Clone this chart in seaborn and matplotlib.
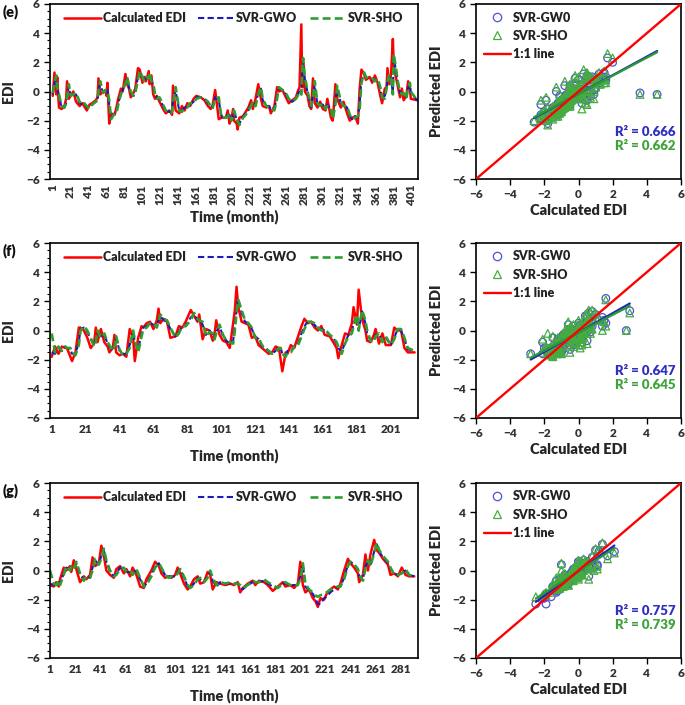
import numpy as np
import pandas as pd
import matplotlib
matplotlib.use("Agg")
import matplotlib.pyplot as plt
import seaborn as sns
from matplotlib.lines import Line2D
from matplotlib.ticker import MultipleLocator

# ---------------- data ----------------
months_e = [1,3,5,6,8,11,14,16,17,19,
            21,24,27,31,34,36,39,42,45,49,
            51,52,54,57,60,61,62,64,66,70,
            72,74,77,79,82,84,86,88,91,93,
            96,98,101,103,105,108,109,111,113,115,
            117,120,124,127,131,134,135,138,142,145,
            148,151,154,158,161,166,170,174,177,179,
            182,186,189,194,196,198,200,202,203,206,
            207,209,213,216,219,222,224,227,230,233,
            235,239,242,244,248,251,253,257,260,264,
            268,272,274,276,278,279,280,282,285,287,
            289,291,293,296,299,302,305,307,311,313,
            316,318,322,325,329,332,335,338,341,343,
            345,348,350,354,357,360,363,366,368,371,
            373,374,376,378,380,381,386,388,390,392,
            395,397,399,400,407]
calc_e = [-0.3,1.3,-0.2,1.0,-1.1,-1.2,-1.0,-0.5,0.7,-0.5,
          -0.3,0.0,-0.7,-1.0,-0.8,-1.0,-1.3,-0.9,-0.8,-0.6,
          -0.4,0.9,-0.2,0.0,0.1,-0.3,0.6,-2.2,-1.5,-1.6,
          -1.1,-0.5,0.2,0.0,1.2,0.5,0.2,-0.4,-0.1,0.2,
          1.6,1.5,0.6,1.0,0.7,1.4,0.5,1.1,-0.2,-0.5,
          -0.3,-0.7,-1.2,-1.5,-1.3,-1.6,0.4,-1.3,-1.5,-1.0,
          -1.3,-0.8,-1.0,-0.5,-0.3,-0.4,-0.6,-1.0,-1.2,-1.0,
          0.1,-1.9,-1.8,-1.8,-1.3,-2.2,-1.9,-1.2,-2.0,-2.2,
          -2.6,-1.8,-1.7,-1.4,-1.1,-0.6,-1.2,-0.5,0.5,-0.5,
          -1.0,-1.1,-1.0,-1.5,-1.0,0.3,0.0,0.1,-0.3,-0.8,
          -0.6,-0.4,0.0,0.3,4.6,0.3,2.0,0.0,-0.3,-1.0,
          -1.2,0.9,-0.8,-1.1,-0.7,-1.2,-1.3,-0.5,-1.8,-2.0,
          0.5,-0.5,-1.1,-0.7,-1.5,-2.0,-1.8,-1.7,-2.2,0.2,
          1.5,1.2,0.8,1.0,0.6,1.1,0.6,-0.3,-0.8,0.2,
          0.3,1.6,0.5,1.2,3.6,1.7,0.2,-0.4,0.2,-0.6,
          -0.3,0.7,0.2,-0.5,-0.6]
gwo_e = [-0.2,0.6,0.9,0.2,-0.3,-1.1,-1.1,-0.8,-0.3,0.4,
         -0.4,-0.2,-0.2,-0.8,-0.9,-0.8,-1.1,-1.1,-0.9,-0.7,
         -0.5,0.1,0.5,-0.1,0.0,0.0,0.1,-0.9,-1.8,-1.5,
         -1.4,-0.8,-0.1,0.1,0.6,0.9,0.3,-0.1,-0.3,0.0,
         1.0,1.3,0.9,0.8,0.9,1.0,1.1,0.8,0.4,-0.3,
         -0.4,-0.5,-1.0,-1.3,-1.4,-1.4,-0.6,0.0,-1.3,-1.3,
         -1.1,-1.0,-0.9,-0.7,-0.4,-0.4,-0.5,-0.8,-1.0,-1.1,
         -0.4,-0.6,-1.7,-1.7,-1.6,-1.6,-2.0,-1.6,-1.4,-1.9,
         -2.1,-2.2,-1.7,-1.5,-1.3,-0.9,-0.8,-0.9,-0.1,0.2,
         -0.6,-1.0,-1.0,-1.2,-1.2,-0.3,0.2,0.1,-0.1,-0.6,
         -0.7,-0.5,-0.2,0.1,-0.2,1.2,2.0,0.8,-0.1,-0.6,
         -1.1,-0.2,0.4,-0.9,-0.9,-0.9,-1.2,-0.9,-1.2,-1.8,
         -0.6,0.2,-0.8,-0.9,-1.1,-1.7,-1.9,-1.7,-1.8,-0.8,
         0.8,1.2,1.0,0.8,0.8,0.8,0.8,0.2,-0.5,-0.3,
         0.2,0.8,1.0,0.9,-0.1,2.3,0.5,-0.1,-0.1,-0.2,
         -0.4,0.3,0.5,-0.1,-0.6]
sho_e = [-0.1,0.5,1.1,0.3,-0.2,-1.0,-1.1,-0.8,-0.4,0.5,
         -0.3,-0.2,-0.1,-0.7,-0.9,-0.8,-1.0,-1.2,-0.9,-0.7,
         -0.6,0.0,0.7,-0.1,0.1,0.0,0.0,-0.6,-1.9,-1.5,
         -1.5,-0.9,-0.2,0.1,0.5,1.0,0.4,0.0,-0.3,-0.1,
         0.8,1.4,1.0,0.7,1.0,0.9,1.3,0.7,0.6,-0.2,
         -0.5,-0.4,-0.9,-1.3,-1.5,-1.4,-0.8,0.3,-1.3,-1.4,
         -1.1,-1.1,-0.8,-0.8,-0.5,-0.4,-0.5,-0.7,-1.0,-1.2,
         -0.5,-0.4,-1.8,-1.8,-1.7,-1.5,-2.0,-1.7,-1.3,-1.9,
         -2.0,-2.3,-1.8,-1.6,-1.3,-1.0,-0.7,-1.0,-0.2,0.3,
         -0.5,-1.0,-1.1,-1.1,-1.3,-0.5,0.3,0.1,0.0,-0.5,
         -0.7,-0.5,-0.3,0.0,-0.2,1.5,2.3,1.0,0.0,-0.5,
         -1.0,-0.5,0.7,-0.8,-1.0,-0.8,-1.2,-1.0,-1.1,-1.9,
         -0.9,0.4,-0.7,-1.0,-1.0,-1.6,-1.9,-1.8,-1.7,-1.2,
         0.6,1.3,1.0,0.8,0.9,0.7,0.9,0.3,-0.4,-0.5,
         0.2,0.6,1.2,0.8,-0.2,2.6,0.5,0.0,-0.2,-0.1,
         -0.5,0.2,0.6,0.0,-0.6]

months_f = [1,3,5,7,9,10,12,13,15,17,
            18,20,22,24,26,27,28,30,32,34,
            35,37,38,39,41,43,45,47,49,50,
            52,54,55,57,59,61,63,64,65,67,
            69,71,74,76,78,80,83,85,87,88,
            90,92,94,96,97,98,100,102,104,106,
            108,109,110,111,113,115,117,119,121,123,
            125,127,129,131,133,135,136,137,139,140,
            142,144,146,148,150,152,154,156,158,160,
            162,165,167,169,170,172,174,176,178,179,
            181,182,184,186,187,189,191,192,194,196,
            198,201,203,205,207,209,211,215]
calc_f = [-1.8,-1.1,-1.6,-1.1,-1.2,-1.2,-1.8,-2.1,-1.5,0.2,
          0.2,0.0,-0.5,-1.2,-0.9,0.2,-0.8,0.1,-0.8,-1.1,
          -1.5,-1.2,-0.3,-1.5,-1.7,-1.6,-1.8,0.1,-0.5,-2.1,
          -0.5,0.3,0.2,0.5,0.6,0.1,0.7,1.5,0.5,0.8,
          0.6,-0.5,-0.4,0.3,0.2,0.6,1.4,1.0,0.6,1.1,
          -0.6,0.1,0.0,-0.7,-0.3,0.7,-0.3,-0.7,-0.8,-1.2,
          0.5,1.4,3.0,1.6,0.6,0.5,0.4,-0.5,-0.4,-1.0,
          -1.2,-1.4,-1.6,-1.5,-1.1,-1.2,-2.0,-2.8,-1.5,-1.6,
          -1.0,-1.2,-0.5,0.2,0.8,0.5,0.6,0.2,0.0,0.3,
          -0.3,-0.4,-0.8,-1.2,-1.9,-1.0,-0.2,-0.3,0.5,1.6,
          0.4,2.8,0.8,0.0,-0.7,-0.8,-0.3,0.1,-0.9,-0.2,
          -1.0,-1.0,0.2,0.0,0.0,-1.2,-1.5,-1.5]
gwo_f = [-1.5,-1.6,-1.2,-1.4,-1.1,-1.2,-1.3,-1.6,-1.6,-0.8,
         0.1,0.2,-0.1,-0.6,-1.0,-0.6,-0.2,-0.4,-0.3,-0.9,
         -1.1,-1.4,-1.0,-0.5,-1.4,-1.6,-1.6,-1.0,-0.1,-0.8,
         -1.3,-0.2,0.2,0.3,0.5,0.4,0.3,0.7,1.0,0.7,
         0.6,0.1,-0.4,-0.1,0.3,0.3,0.9,1.1,0.7,0.8,
         0.4,-0.3,0.0,-0.3,-0.6,-0.1,0.3,-0.4,-0.7,-0.9,
         -0.7,0.3,1.35,2.2,1.2,0.6,0.5,0.1,-0.4,-0.6,
         -1.1,-1.2,-1.4,-1.6,-1.4,-1.1,-1.2,-1.6,-1.7,-1.4,
         -1.4,-1.1,-1.0,-0.3,0.3,0.6,0.5,0.4,0.1,0.1,
         0.0,-0.3,-0.5,-0.9,-1.2,-1.5,-0.8,-0.3,-0.1,0.5,
         1.0,0.0,1.3,0.5,-0.2,-0.7,-0.7,-0.3,-0.3,-0.7,
         -0.5,-1.0,-0.5,0.1,0.0,-0.6,-1.3,-1.4]
sho_f = [-0.2,-1.5,-1.1,-1.4,-1.1,-1.2,-1.2,-1.5,-1.7,-1.0,
         0.0,0.3,0.0,-0.5,-1.1,-0.8,0.0,-0.5,-0.2,-0.8,
         -1.0,-1.4,-1.1,-0.4,-1.3,-1.7,-1.6,-1.2,0.0,-0.6,
         -1.5,-0.4,0.1,0.2,0.5,0.5,0.2,0.6,1.1,0.8,
         0.7,0.2,-0.5,-0.2,0.3,0.3,0.7,1.2,0.8,0.7,
         0.6,-0.4,-0.1,-0.2,-0.6,-0.2,0.4,-0.3,-0.7,-0.8,
         -0.9,0.0,1.2,2.1,1.4,0.7,0.5,0.2,-0.5,-0.5,
         -1.0,-1.3,-1.4,-1.6,-1.5,-1.2,-1.2,-1.6,-1.8,-1.5,
         -1.5,-1.1,-1.1,-0.5,0.1,0.6,0.6,0.5,0.2,0.0,
         0.1,-0.3,-0.5,-0.8,-1.1,-1.6,-0.9,-0.4,-0.2,0.3,
         1.1,0.0,1.4,0.7,0.0,-0.7,-0.8,-0.4,-0.2,-0.8,
         -0.4,-1.0,-0.6,0.1,0.1,-0.5,-1.2,-1.4]

months_g = [1,4,6,8,9,12,14,17,18,20,
            22,25,28,30,33,35,37,40,42,44,
            46,49,52,54,57,60,62,65,67,70,
            73,76,78,82,85,88,90,93,96,98,
            101,103,105,108,111,113,116,119,121,124,
            127,129,131,134,137,141,145,148,151,153,
            155,159,163,165,168,172,175,179,183,187,
            189,193,196,199,201,203,205,208,211,213,
            215,217,220,222,225,228,231,233,236,239,
            241,244,247,248,251,253,255,257,260,262,
            264,267,271,273,276,279,282,285,288,292]
calc_g = [-1.0,-1.1,-0.8,-1.1,-0.6,0.2,0.0,0.3,-0.1,0.7,
          0.1,-0.8,-0.4,-0.6,-0.3,0.9,0.3,0.5,1.7,1.0,
          0.0,-0.3,-0.5,0.1,0.3,-0.2,0.1,-0.4,0.2,-0.3,
          -1.1,-1.2,-0.6,0.0,0.6,0.3,-0.2,-0.5,-0.4,-0.5,
          -0.3,0.2,-0.2,-0.9,-1.3,-1.1,-0.6,-0.4,-0.9,-0.8,
          -0.1,-0.3,-1.3,-0.8,-0.9,-1.0,-0.9,-1.0,-0.8,-1.5,
          -1.2,-0.9,-0.7,-1.0,-0.7,-0.8,-1.0,-1.4,-1.1,-0.8,
          -1.1,-1.0,-1.2,-0.9,0.6,-1.0,-1.5,-1.3,-1.9,-2.1,
          -2.5,-1.9,-2.0,-1.6,-1.3,-1.1,-1.3,-0.9,0.0,0.8,
          0.5,0.2,-0.2,-0.8,-0.3,1.1,0.0,1.1,2.1,1.4,
          1.2,0.8,0.4,-0.3,-0.2,-0.4,0.2,-0.3,-0.4,-0.4]
gwo_g = [-0.9,-1.0,-1.0,-0.8,-0.9,-0.2,0.2,0.1,0.2,0.2,
         0.5,-0.3,-0.6,-0.4,-0.5,0.2,0.7,0.4,1.0,1.4,
         0.6,-0.1,-0.4,-0.2,0.2,0.1,-0.1,-0.1,-0.2,0.0,
         -0.6,-1.1,-0.9,-0.3,0.3,0.5,0.1,-0.3,-0.4,-0.4,
         -0.4,-0.1,0.1,-0.5,-1.1,-1.2,-0.9,-0.5,-0.6,-0.8,
         -0.4,-0.1,-0.7,-1.1,-0.8,-0.9,-0.9,-0.9,-0.9,-1.1,
         -1.3,-1.0,-0.8,-0.8,-0.8,-0.7,-0.9,-1.1,-1.2,-0.9,
         -0.9,-1.0,-1.0,-1.0,-0.4,0.4,-1.1,-1.4,-1.6,-1.9,
         -2.3,-2.3,-1.9,-1.8,-1.5,-1.3,-1.1,-1.1,-0.5,0.4,
         0.6,0.4,0.1,-0.4,-0.6,0.3,0.6,0.4,1.3,1.8,
         1.3,0.9,0.5,0.1,-0.2,-0.3,-0.2,0.0,-0.3,-0.4]
sho_g = [0.0,-0.9,-1.0,-0.7,-1.0,-0.3,0.3,0.0,0.3,0.1,
         0.6,-0.2,-0.7,-0.4,-0.5,0.0,0.8,0.4,0.8,1.5,
         0.7,0.0,-0.4,-0.3,0.1,0.2,-0.1,0.0,-0.3,0.1,
         -0.5,-1.1,-1.0,-0.4,0.2,0.5,0.2,-0.3,-0.5,-0.4,
         -0.4,-0.2,0.1,-0.4,-1.0,-1.2,-1.0,-0.6,-0.5,-0.8,
         -0.5,0.0,-0.5,-1.0,-0.8,-0.9,-0.8,-0.9,-0.9,-1.0,
         -1.2,-1.0,-0.7,-0.8,-0.8,-0.6,-0.8,-1.0,-1.2,-0.9,
         -0.8,-1.0,-1.0,-1.0,-0.6,0.5,-0.9,-1.3,-1.5,-1.7,
         -1.8,-1.7,-1.6,-1.5,-1.3,-1.2,-1.1,-1.1,-0.6,0.3,
         0.6,0.4,0.1,-0.3,-0.7,0.1,0.7,0.3,1.2,1.9,
         1.4,1.0,0.6,0.2,-0.3,-0.3,-0.2,0.1,-0.3,-0.4]

panel_labels = ["(e)", "(f)", "(g)"]
r2_gwo = ["0.666", "0.647", "0.757"]
r2_sho = ["0.662", "0.645", "0.739"]
xticks_e = list(range(1, 402, 20))
xticks_f = list(range(1, 202, 20))
xticks_g = list(range(1, 282, 20))
series_names = ["Calculated EDI", "SVR-GWO", "SVR-SHO"]
scatter_names = ["SVR-GW0", "SVR-SHO", "1:1 line"]

for m, c, a, b in [(months_e, calc_e, gwo_e, sho_e),
                   (months_f, calc_f, gwo_f, sho_f),
                   (months_g, calc_g, gwo_g, sho_g)]:
    assert len(m) == len(c) == len(a) == len(b), (len(m), len(c), len(a), len(b))

# ---------------- style ----------------
sns.set_style("ticks")
plt.rcParams['font.family'] = ['Lato', 'DejaVu Sans']
plt.rcParams['font.weight'] = 'heavy'
plt.rcParams['axes.labelweight'] = 'heavy'
plt.rcParams['axes.edgecolor'] = 'black'
plt.rcParams['axes.linewidth'] = 1.2
plt.rcParams['xtick.color'] = 'black'
plt.rcParams['ytick.color'] = 'black'
plt.rcParams['text.color'] = '#222222'
plt.rcParams['xtick.labelcolor'] = '#333333'
plt.rcParams['ytick.labelcolor'] = '#333333'

RED = '#ff0000'
BLUE = '#1a1abf'
GREEN = '#2e9e2e'
SC_BLUE = '#5050d8'
SC_GREEN = '#45ad3f'
TXT_BLUE = '#2f2fc0'
TXT_GREEN = '#3ea33a'

W, H = 685, 705
fig = plt.figure(figsize=(W / 100, H / 100), dpi=100)

def ax_px(x0, y0, x1, y1):
    return fig.add_axes([x0 / W, 1 - y1 / H, (x1 - x0) / W, (y1 - y0) / H])

rows_y = [(4, 179), (243, 418), (483, 658)]
panels = [(months_e, calc_e, gwo_e, sho_e, xticks_e, 90, (-2, 408)),
          (months_f, calc_f, gwo_f, sho_f, xticks_f, 0, (0, 217)),
          (months_g, calc_g, gwo_g, sho_g, xticks_g, 0, (1, 295))]

TICK_FS = 8.5
for i, (months, calc, gwo, sho, xt, rot, xlim) in enumerate(panels):
    y0, y1 = rows_y[i]
    # ---------- time series ----------
    ax = ax_px(50, y0, 418, y1)
    df = pd.DataFrame({"Month": months, "Calculated": calc, "GWO": gwo, "SHO": sho})
    sns.lineplot(data=df, x="Month", y="Calculated", ax=ax, color=RED, lw=1.8, legend=False)
    sns.lineplot(data=df, x="Month", y="GWO", ax=ax, color=BLUE, lw=1.5,
                 linestyle=(0, (3, 1.6)), legend=False)
    sns.lineplot(data=df, x="Month", y="SHO", ax=ax, color=GREEN, lw=1.9,
                 linestyle=(0, (3, 1.6)), legend=False)
    ax.set_xlim(*xlim)
    ax.set_ylim(-6, 6)
    ax.yaxis.set_major_locator(MultipleLocator(2))
    ax.yaxis.set_minor_locator(MultipleLocator(0.5))
    ax.set_xticks(xt)
    ax.set_xticklabels([str(t) for t in xt], rotation=rot, fontsize=TICK_FS)
    ax.tick_params(axis='y', which='major', length=4, width=1, labelsize=TICK_FS, direction='out')
    ax.tick_params(axis='y', which='minor', length=2.5, width=0.8, direction='out')
    ax.tick_params(axis='x', which='major', length=0, pad=4)
    for s in ax.spines.values():
        s.set_visible(True)
        s.set_linewidth(1.2)
    ax.set_xlabel("Time (month)", fontsize=10.5)
    ax.set_ylabel("EDI", fontsize=10)
    ax.xaxis.set_label_coords(0.5, -0.175)
    ax.yaxis.set_label_coords(-0.095, 0.5)
    handles = [Line2D([], [], color=RED, lw=1.8),
               Line2D([], [], color=BLUE, lw=1.5, linestyle=(0, (3, 1.6))),
               Line2D([], [], color=GREEN, lw=1.9, linestyle=(0, (3, 1.6)))]
    ax.legend(handles, series_names, loc='upper center', bbox_to_anchor=(0.5, 1.0),
              ncol=3, frameon=False, fontsize=9, handlelength=2.9,
              handletextpad=0.15, columnspacing=1.0, borderaxespad=0.25)
    fig.text(3 / W, 1 - (y0 + 8) / H, panel_labels[i], fontsize=10.5, fontweight='heavy',
             va='center', ha='left', color='#111111')

    # ---------- scatter ----------
    axs = ax_px(476, y0, 681, y1)
    sns.scatterplot(x=calc, y=gwo, ax=axs, marker='o', s=30, color=SC_BLUE,
                    facecolor='none', edgecolor=SC_BLUE, linewidth=0.9, legend=False, zorder=2)
    sns.scatterplot(x=calc, y=sho, ax=axs, marker='^', s=30, color=SC_GREEN,
                    facecolor='none', edgecolor=SC_GREEN, linewidth=0.9, legend=False, zorder=3)
    sns.regplot(x=np.array(calc), y=np.array(gwo), ax=axs, scatter=False, ci=None,
                color='#2525b5', line_kws={'lw': 1.6, 'zorder': 4}, truncate=True)
    sns.regplot(x=np.array(calc), y=np.array(sho), ax=axs, scatter=False, ci=None,
                color='#2a9a35', line_kws={'lw': 1.6, 'zorder': 5}, truncate=True)
    axs.axline((0, 0), slope=1, color=RED, lw=1.7, zorder=6)
    axs.set_xlim(-6, 6)
    axs.set_ylim(-6, 6)
    axs.xaxis.set_major_locator(MultipleLocator(2))
    axs.yaxis.set_major_locator(MultipleLocator(2))
    axs.tick_params(axis='both', which='major', length=4, width=1, labelsize=TICK_FS, direction='out')
    for s in axs.spines.values():
        s.set_visible(True)
        s.set_linewidth(1.2)
    axs.set_xlabel("Calculated EDI", fontsize=10.5)
    axs.set_ylabel("Predicted EDI", fontsize=10.5)
    axs.xaxis.set_label_coords(0.5, -0.145)
    axs.yaxis.set_label_coords(-0.16, 0.5)
    sh = [Line2D([], [], marker='o', ls='none', markersize=6, markerfacecolor='none',
                 markeredgecolor=SC_BLUE, markeredgewidth=0.9),
          Line2D([], [], marker='^', ls='none', markersize=6, markerfacecolor='none',
                 markeredgecolor=SC_GREEN, markeredgewidth=0.9),
          Line2D([], [], color=RED, lw=1.7)]
    axs.legend(sh, scatter_names, loc='upper left', bbox_to_anchor=(0.0, 1.0),
               frameon=False, fontsize=9, handlelength=2.2, handletextpad=0.15,
               labelspacing=0.5, borderaxespad=0.2)
    axs.text(0.975, 0.27, "R² = " + r2_gwo[i], transform=axs.transAxes, ha='right',
             va='center', fontsize=9.5, fontweight='heavy', color=TXT_BLUE)
    axs.text(0.975, 0.19, "R² = " + r2_sho[i], transform=axs.transAxes, ha='right',
             va='center', fontsize=9.5, fontweight='heavy', color=TXT_GREEN)

fig.savefig("out.png", dpi=100)
